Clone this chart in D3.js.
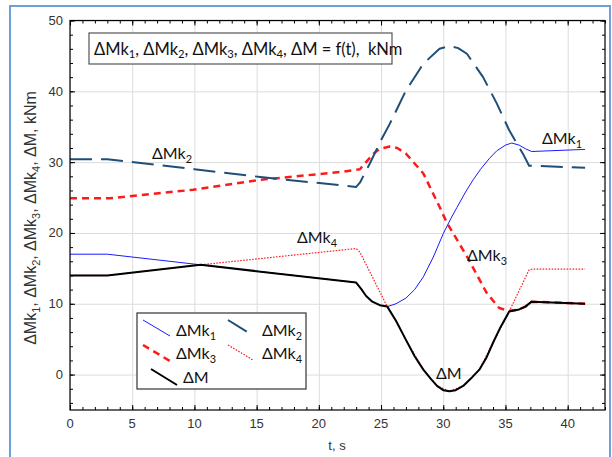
<!DOCTYPE html>
<html><head><meta charset="utf-8">
<script src="https://cdn.jsdelivr.net/npm/d3@7"></script>
<style>body{margin:0;background:#fff}svg{display:block}text{white-space:pre}</style>
</head><body>
<svg id="c" width="612" height="457"></svg>
<script>
// ---------------- data ----------------
const xTicks = [0,5,10,15,20,25,30,35,40];
const yTicks = [0,10,20,30,40,50];

const mT  = [0,3,10.5,23,23.4,23.8,24.3,24.9,25.5,26.2,27,27.7,28.4,29,29.5,30,30.5,31,31.6,32.2,32.9,33.5,34,34.6,35.3,36.1,36.6,37.1,41.4];
const mV  = [14,14,15.5,13,12.1,11.1,10.3,9.8,9.6,7.6,4.9,2.6,0.7,-0.6,-1.6,-2.2,-2.35,-2.2,-1.6,-0.6,0.7,2.5,4.5,6.7,8.9,9.2,9.6,10.3,10.0];

const mk1T = [0,3,10.5,23,23.4,23.8,24.3,24.9,25.5,26.2,27,27.7,28.4,29.2,30,30.6,31.1,31.8,32.4,33,33.7,34.3,35,35.5,36.1,36.6,37.1,41.4];
const mk1V = [17,17,15.5,13,12.1,11.1,10.3,9.8,9.6,10.0,10.8,12.0,13.8,16.6,19.9,22.0,23.6,25.8,27.5,29.0,30.5,31.6,32.4,32.7,32.4,31.9,31.5,31.8];

const mk2T = [0,3,10,15.3,23,23.3,24.1,25,25.7,27,28.4,29.7,30.5,31.2,31.9,33.2,34.3,35.3,36.4,36.9,41.4];
const mk2V = [30.4,30.4,29.0,27.9,26.5,27.1,29.8,33.1,35.4,40.1,43.9,46.0,46.4,46.1,45.3,42.0,38.3,34.5,31.2,29.5,29.2];

const mk3T = [0,3.2,9.9,15.3,21.7,23.3,24.4,24.9,25.7,26.3,27,28.4,29.7,30.3,31.9,33.5,34.5,35.3,36.1,36.6,37.1,41.4];
const mk3V = [24.9,24.9,26.1,27.5,28.6,29.0,31.2,31.9,32.2,32.0,31.2,28.4,23.7,21.4,16.7,11.5,9.4,9.0,9.2,9.6,10.3,10.0];

const mk4T = [0,3,10.5,23,23.3,25.5,26.2,27,28.4,29.5,30.5,31.6,32.9,34,35.3,36.9,37.2,41.4];
const mk4V = [14,14,15.5,17.8,17.3,9.6,7.6,4.9,0.7,-1.6,-2.35,-1.6,0.7,4.5,8.9,14.8,14.9,14.9];

const legendLabels = ["ΔMk_1","ΔMk_2","ΔMk_3","ΔMk_4","ΔM"];
const titleText = "ΔMk_1, ΔMk_2, ΔMk_3, ΔMk_4, ΔM = f(t),  kNm";
const yLabel = "ΔMk_1, ΔMk_2, ΔMk_3, ΔMk_4, ΔM, kNm";
const xLabel = "t, s";

// ---------------- layout ----------------
const svg = d3.select("#c");
const L = 70, R = 605, T = 20.5, B = 410;
const x = d3.scaleLinear().domain([0,43]).range([L,R]);
const y = d3.scaleLinear().domain([-5,50]).range([B,T]);
const calib = "Lato, 'Open Sans', sans-serif";
const arial = "'Liberation Sans', Arial, sans-serif";

function rich(sel, str, size){
  const parts = str.split(/_(\d)/);
  let shifted = false;
  parts.forEach((p,i)=>{
    if(p==="") return;
    const t = sel.append("tspan").text(p);
    if(i%2===1){ t.attr("font-size", size*0.68).attr("dy", size*0.22); shifted = true; }
    else { t.attr("font-size", size); if(shifted){ t.attr("dy", -size*0.22); shifted=false; } }
  });
}

// outer light-blue border
svg.append("rect").attr("x",10).attr("y",6).attr("width",600).attr("height",470)
  .attr("fill","none").attr("stroke","#6f9fd8").attr("stroke-width",2);

// gridlines
svg.append("g").attr("transform",`translate(0,${B})`)
  .call(d3.axisBottom(x).tickValues(xTicks).tickSize(-(B-T)).tickFormat(""))
  .call(g=>{g.select(".domain").remove(); g.selectAll("line").attr("stroke","#dcdcdc");});
svg.append("g").attr("transform",`translate(${L},0)`)
  .call(d3.axisLeft(y).tickValues(yTicks).tickSize(-(R-L)).tickFormat(""))
  .call(g=>{g.select(".domain").remove(); g.selectAll("line").attr("stroke","#dcdcdc");});

// series
const line = d3.line().x(d=>x(d[0])).y(d=>y(d[1]));
const zip = (a,b)=>a.map((v,i)=>[v,b[i]]);
const series = [
  {t:mk4T, v:mk4V, color:"#ff2020", w:1.2, dash:"1.6,1.4"},
  {t:mk3T, v:mk3V, color:"#ff1a1a", w:2.5, dash:"7,5"},
  {t:mk2T, v:mk2V, color:"#1f4e79", w:2, dash:"22,9"},
  {t:mk1T, v:mk1V, color:"#1a1aff", w:1, dash:null},
  {t:mT,   v:mV,   color:"#000000", w:2, dash:null}
];
const gS = svg.append("g");
series.forEach(s=>{
  gS.append("path").attr("d", line(zip(s.t,s.v))).attr("fill","none")
    .attr("stroke",s.color).attr("stroke-width",s.w)
    .attr("stroke-dasharray",s.dash).attr("stroke-linejoin","round");
});

// frame
svg.append("rect").attr("x",L).attr("y",T).attr("width",R-L).attr("height",B-T)
  .attr("fill","none").attr("stroke","#000").attr("stroke-width",1.2);

// ticks (inward) on four sides
const minorX = d3.range(0,44,1), minorY = d3.range(-4,51,2);
function ticks(axisFn, pos, scale, vals, size){
  svg.append("g").attr("transform",pos)
    .call(axisFn(scale).tickValues(vals).tickSize(size).tickFormat(""))
    .call(g=>{g.select(".domain").remove(); g.selectAll("line").attr("stroke","#000");});
}
ticks(d3.axisBottom, `translate(0,${B})`, x, minorX, -3);
ticks(d3.axisBottom, `translate(0,${B})`, x, xTicks, -5);
ticks(d3.axisTop, `translate(0,${T})`, x, minorX, -3);
ticks(d3.axisTop, `translate(0,${T})`, x, xTicks, -5);
ticks(d3.axisLeft, `translate(${L},0)`, y, minorY, -3);
ticks(d3.axisLeft, `translate(${L},0)`, y, yTicks, -5);
ticks(d3.axisRight, `translate(${R},0)`, y, minorY, -3);
ticks(d3.axisRight, `translate(${R},0)`, y, yTicks, -5);

// tick labels
svg.append("g").selectAll("text").data(xTicks).join("text")
  .attr("x",d=>x(d)).attr("y",428).attr("text-anchor","middle")
  .attr("font-family",arial).attr("font-size",13).attr("fill","#333").text(d=>d);
svg.append("g").selectAll("text").data(yTicks).join("text")
  .attr("x",63).attr("y",d=>y(d)+4.5).attr("text-anchor","end")
  .attr("font-family",arial).attr("font-size",13).attr("fill","#333").text(d=>d);

// axis titles
svg.append("text").attr("x",337).attr("y",450).attr("text-anchor","middle")
  .attr("font-family",arial).attr("font-size",13).attr("fill","#333").text(xLabel);
const yl = svg.append("text").attr("transform","translate(36,218) rotate(-90)")
  .attr("text-anchor","middle").attr("font-family",arial).attr("fill","#333");
rich(yl, yLabel, 16);

// title box
svg.append("rect").attr("x",89).attr("y",33).attr("width",303).attr("height",31)
  .attr("fill","#fff").attr("stroke","#555").attr("stroke-width",1.2);
const tt = svg.append("text").attr("x",94).attr("y",54.5).attr("font-family",calib).attr("fill","#111");
rich(tt, titleText, 16.5);

// annotations
const ann = [
  {s:"ΔMk_2", x:152, y:159},
  {s:"ΔMk_4", x:297, y:243},
  {s:"ΔMk_3", x:467, y:261},
  {s:"ΔM",    x:436, y:379},
  {s:"ΔMk_1", x:542, y:144}
];
ann.forEach(a=>{
  const t = svg.append("text").attr("x",a.x).attr("y",a.y).attr("font-family",calib).attr("fill","#111");
  rich(t, a.s, 16);
});

// legend
svg.append("rect").attr("x",137).attr("y",313).attr("width",169).attr("height",76)
  .attr("fill","#fff").attr("stroke","#333").attr("stroke-width",1.2);
const legPos = [
  {x1:143,y1:320,x2:170,y2:336,tx:176,ty:336},
  {x1:228,y1:320,x2:254,y2:336,tx:262,ty:336},
  {x1:143,y1:345,x2:170,y2:361,tx:176,ty:359},
  {x1:228,y1:345,x2:253,y2:360,tx:262,ty:359},
  {x1:151,y1:369,x2:177,y2:385,tx:183,ty:383}
];
const legOrder = [3,2,1,0,4]; // series index for each legend label
legendLabels.forEach((lab,i)=>{
  const p = legPos[i], s = series[legOrder[i]];
  svg.append("line").attr("x1",p.x1).attr("y1",p.y1).attr("x2",p.x2).attr("y2",p.y2)
    .attr("stroke",s.color).attr("stroke-width",s.w).attr("stroke-dasharray",s.dash);
  const t = svg.append("text").attr("x",p.tx).attr("y",p.ty).attr("font-family",calib).attr("fill","#111");
  rich(t, lab, 16);
});
</script>
</body></html>
